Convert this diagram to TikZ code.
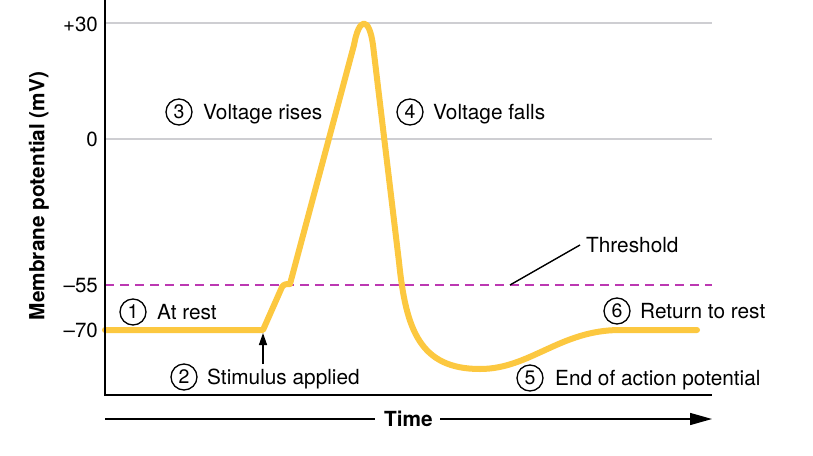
\documentclass[tikz,border=0pt]{standalone}
\usepackage{fontspec}
\setmainfont{TeX Gyre Heros}
\usetikzlibrary{arrows.meta}
\definecolor{apyellow}{RGB}{252,200,64}
\definecolor{threshcol}{RGB}{188,56,178}
\definecolor{gridgray}{RGB}{206,206,210}
\begin{document}
\begin{tikzpicture}[x=1pt,y=-1pt,
  lbl/.style={anchor=base west,inner sep=0pt,font=\fontsize{20.8}{24}\selectfont},
  tick/.style={anchor=base east,inner sep=0pt,font=\fontsize{20.5}{24}\selectfont},
  numc/.style={circle,draw,line width=1.3pt,minimum size=26pt,inner sep=0pt,font=\fontsize{19.5}{22}\selectfont},
  gridln/.style={gridgray,line width=1.6pt},
  axisln/.style={black,line width=2.6pt},
  apcurve/.style={apyellow,line width=6pt,line cap=round,line join=round},
  threshln/.style={threshcol,line width=1.6pt,dash pattern=on 9pt off 6pt}
]
\useasboundingbox (0,0) rectangle (813,455);
\fill[white] (0,0) rectangle (813,455);

% grid coordinates
\coordinate (g30l) at (105,23);  \coordinate (g30r) at (712,23);
\coordinate (g0l) at (105,139);  \coordinate (g0r) at (712,139);
\coordinate (t55l) at (105,285); \coordinate (t55r) at (712,285);
\draw[gridln] (g30l) -- (g30r);
\draw[gridln] (g0l) -- (g0r);
\draw[threshln] (t55l) -- (t55r);

% curve
\draw[apcurve] (105,330) -- (263,330) -- (282,287) .. controls (284,284) and (286,284) .. (290,284)
  -- (354,45) .. controls (359,17) and (369,16) .. (373,45) -- (399,262)
  .. controls (406,330) and (420,369) .. (480,369)
  .. controls (530,369) and (560,330) .. (620,330) -- (697,330);

% axes
\coordinate (axtop) at (105,0);
\coordinate (axorig) at (105,395);
\coordinate (axright) at (712,395);
\draw[axisln,line join=miter] (axtop) -- (axorig) -- (axright);

% tick labels
\node[tick] (l30) at (98,31) {+30};
\node[tick] (l0) at (98,146) {0};
\node[tick] (l55) at (98,292) {–55};
\node[tick] (l70) at (98,337) {–70};

% y label
\node[rotate=90,inner sep=0pt,font=\bfseries\fontsize{20.8}{24}\selectfont] (ylab) at (39,196) {Membrane potential (mV)};

% time axis
\node[anchor=base,inner sep=0pt,font=\bfseries\fontsize{20.8}{24}\selectfont] (time) at (408.5,426) {Time};
\coordinate (tl) at (105,419);
\coordinate (tr) at (712,419);
\draw[line width=1.4pt] (tl) -- (375,419);
\draw[line width=1.4pt,-{Triangle[length=22pt,width=12pt]}] (440,419) -- (tr);

% threshold callout
\node[lbl] (thr) at (586,252) {Threshold};
\coordinate (thrpt) at (510,285);
\draw[line width=1.4pt] (thrpt) -- (580,245);

% stimulus arrow
\coordinate (stimtail) at (263,364);
\coordinate (stimtip) at (263,333);
\draw[line width=1.4pt,-{Triangle[length=12pt,width=8pt]}] (stimtail) -- (stimtip);

% numbered labels
\node[numc] (c1) at (133,312) {1};
\node[lbl] (t1) at (157,319) {At rest};
\node[numc] (c2) at (184,377) {2};
\node[lbl] (t2) at (207,384) {Stimulus applied};
\node[numc] (c3) at (179,112) {3};
\node[lbl] (t3) at (203,119) {Voltage rises};
\node[numc] (c4) at (410,112) {4};
\node[lbl] (t4) at (433,119) {Voltage falls};
\node[numc] (c5) at (530,378) {5};
\node[lbl] (t5) at (555,385) {End of action potential};
\node[numc] (c6) at (617,311) {6};
\node[lbl] (t6) at (640,318) {Return to rest};
\end{tikzpicture}
\end{document}
